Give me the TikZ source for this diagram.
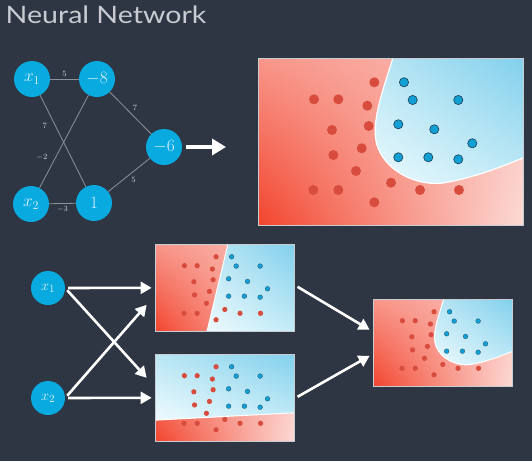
\documentclass[tikz,border=0pt]{standalone}
\usepackage{fontspec}
\newfontfamily\titlefont[FakeStretch=1.19]{Lato}
\usetikzlibrary{arrows.meta,calc,shadings}

\definecolor{bg}{RGB}{46,53,67}
\definecolor{neuron}{RGB}{8,170,224}
\definecolor{neurontext}{RGB}{222,242,250}
\definecolor{wiregray}{RGB}{140,146,155}
\definecolor{lblgray}{RGB}{215,218,222}
\definecolor{titlegray}{RGB}{200,204,210}
\definecolor{reddot}{RGB}{215,76,60}
\definecolor{bluedot}{RGB}{18,160,212}
\definecolor{blueedge}{RGB}{25,60,85}
\definecolor{framegray}{RGB}{200,205,212}
\definecolor{redA}{RGB}{242,68,45}
\definecolor{redB}{RGB}{248,150,138}
\definecolor{redC}{RGB}{252,218,213}
\definecolor{redD}{RGB}{251,195,188}
\definecolor{bluA}{RGB}{238,250,253}
\definecolor{bluB}{RGB}{185,230,244}
\definecolor{bluC}{RGB}{130,208,236}
\definecolor{bluD}{RGB}{195,235,247}

% the data points, in units of the big panel (265 x 167)
\newcommand\datadots[1]{%
  \foreach \x/\y in {116.3/24.3,56/41.3,80.3/41.3,109.3/47.7,110.7/68,74/72,103.7/90.3,75.3/97,
                     98/113,133/124.7,55.3/132,80.3/132,162/132,201/132,116.3/144.3}
    \fill[reddot] (\x,\y) circle (5);
  \foreach \x/\y in {146/24.3,154.7/42,200.3/42,140.3/66.3,176.3/71.3,214.3/85.3,
                     140.3/99.3,170.3/99.3,200.3/101.3}
    \filldraw[fill=bluedot,draw=blueedge,line width=#1] (\x,\y) circle (4.6);
}
% red background of a panel
\newcommand\redbase{%
  \shade[upper left=redB,upper right=redD,lower left=redA,lower right=redC] (0,0) rectangle (265,167);
}

\begin{document}
\begin{tikzpicture}[x=1pt,y=-1pt,
    neuron/.style={circle,fill=neuron,text=neurontext,inner sep=0pt,minimum size=36pt,font=\fontsize{17}{17}\selectfont},
    smallneuron/.style={neuron,minimum size=34pt,font=\fontsize{15}{15}\selectfont},
    wire/.style={wiregray,line width=0.8pt},
    lbl/.style={text=lblgray,font=\fontsize{8}{8}\selectfont,inner sep=2pt},
    panelbox/.style={draw=framegray,line width=0.8pt,inner sep=0pt},
    warrow/.style={white,line width=2.6pt,-{Triangle[length=11pt,width=12pt]}},
    bigarrow/.style={white,line width=4.5pt,-{Triangle[length=14pt,width=16pt]}}]
  \fill[bg] (0,0) rectangle (532,461);
  \useasboundingbox (0,0) rectangle (532,461);

  \node[anchor=base west,text=titlegray,inner sep=0pt,font=\titlefont\fontsize{24}{24}\selectfont] (title) at (5.5,23) {Neural Network};

  % the small network
  \node[neuron] (x1) at (32,79) {$x_1$};
  \node[neuron] (h1) at (97,79) {$-8$};
  \node[neuron] (x2) at (31,204) {$x_2$};
  \node[neuron] (h2) at (94,203) {$1$};
  \node[neuron] (o) at (164,147) {$-6$};
  \draw[wire] (x1) -- node[lbl,above] (w1) {$5$} (h1);
  \draw[wire] (x1) -- node[lbl,pos=.33,left=6pt] (w2) {$7$} (h2);
  \draw[wire] (x2) -- node[lbl,pos=.33,left=6pt] (w3) {$-2$} (h1);
  \draw[wire] (x2) -- node[lbl,below] (w4) {$-3$} (h2);
  \draw[wire] (h1) -- node[lbl,above right] (w5) {$7$} (o);
  \draw[wire] (h2) -- node[lbl,below right] (w6) {$5$} (o);
  \coordinate (tip) at (226,147);
  \draw[bigarrow] ($(o.east)+(4,0)$) -- (tip);

  % big panel
  \begin{scope}[shift={(258,58)}]
    \redbase
    \shade[upper left=bluB,upper right=bluC,lower left=bluA,lower right=bluD]
      (135,0) .. controls (122,40) and (112,70) .. (120,90) .. controls (130,115) and (160,128) .. (185,125)
      .. controls (215,120) and (240,110) .. (265,100) -- (265,0) -- cycle;
    \draw[white,line width=1.2pt]
      (135,0) .. controls (122,40) and (112,70) .. (120,90) .. controls (130,115) and (160,128) .. (185,125)
      .. controls (215,120) and (240,110) .. (265,100);
    \datadots{0.6pt}
  \end{scope}
  \node[panelbox,minimum width=265pt,minimum height=167pt] (big) at (390.5,141.5) {};

  % panel of the first hidden unit
  \begin{scope}[shift={(155,244)},scale=0.525]
    \redbase
    \shade[upper left=bluB,upper right=bluC,lower left=bluA,lower right=bluD]
      (139,0) -- (265,0) -- (265,167) -- (99,167) -- cycle;
    \draw[white,line width=1pt] (139,0) -- (99,167);
    \datadots{0.2pt}
  \end{scope}
  \node[panelbox,minimum width=139.1pt,minimum height=87.7pt] (pA) at (224.6,287.8) {};

  % panel of the second hidden unit
  \begin{scope}[shift={(155,354)},scale=0.525]
    \redbase
    \shade[upper left=bluB,upper right=bluC,lower left=bluA,lower right=bluD]
      (0,0) -- (265,0) -- (265,112) -- (0,126) -- cycle;
    \draw[white,line width=1pt] (0,126) -- (265,112);
    \datadots{0.2pt}
  \end{scope}
  \node[panelbox,minimum width=139.1pt,minimum height=87.7pt] (pB) at (224.6,397.8) {};

  % output panel
  \begin{scope}[shift={(373,299)},scale=0.525]
    \redbase
    \shade[upper left=bluB,upper right=bluC,lower left=bluA,lower right=bluD]
      (135,0) .. controls (122,40) and (112,70) .. (120,90) .. controls (130,115) and (160,128) .. (185,125)
      .. controls (215,120) and (240,110) .. (265,100) -- (265,0) -- cycle;
    \draw[white,line width=1pt]
      (135,0) .. controls (122,40) and (112,70) .. (120,90) .. controls (130,115) and (160,128) .. (185,125)
      .. controls (215,120) and (240,110) .. (265,100);
    \datadots{0.2pt}
  \end{scope}
  \node[panelbox,minimum width=139.1pt,minimum height=87.7pt] (pC) at (442.6,342.8) {};

  % inputs and arrows
  \node[smallneuron] (in1) at (48,288) {$x_1$};
  \node[smallneuron] (in2) at (48,398) {$x_2$};
  \draw[warrow,shorten <=3pt] (in1.east) -- ($(pA.west)+(-3,0)$);
  \draw[warrow,shorten <=3pt] (in1.east) -- ($(pB.west)+(-8,-20)$);
  \draw[warrow,shorten <=3pt] (in2.east) -- ($(pA.west)+(-8,17)$);
  \draw[warrow,shorten <=3pt] (in2.east) -- ($(pB.west)+(-3,0)$);
  \draw[warrow] ($(pA.east)+(3,-1)$) -- ($(pC.west)+(-3,-13)$);
  \draw[warrow] ($(pB.east)+(3,-1)$) -- ($(pC.west)+(-3,13)$);
\end{tikzpicture}
\end{document}
